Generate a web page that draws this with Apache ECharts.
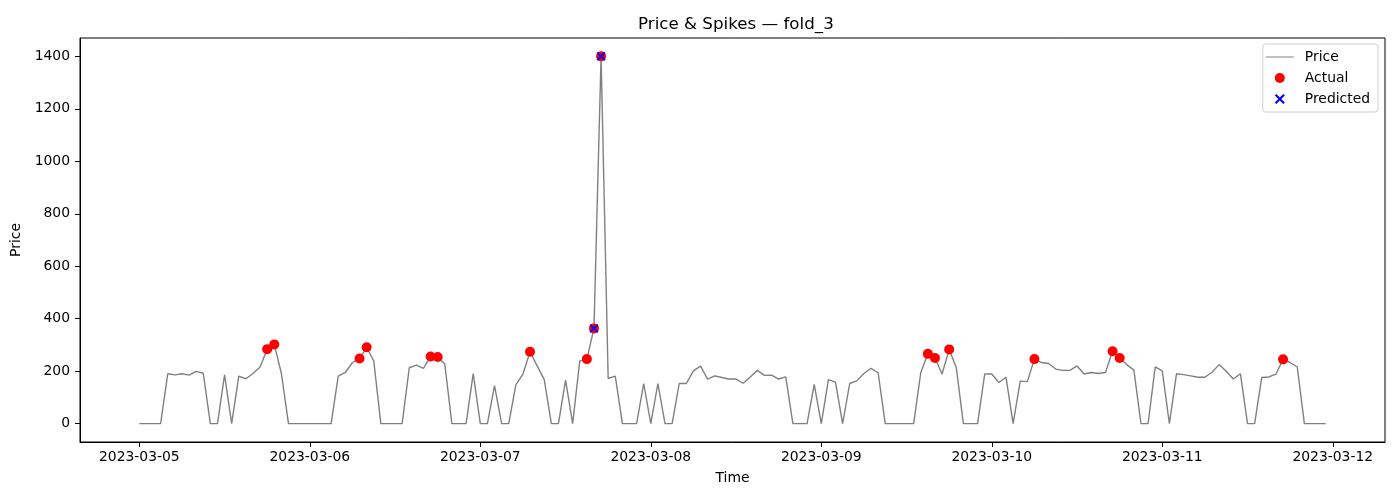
<!DOCTYPE html>
<html>
<head>
<meta charset="utf-8">
<title>Price & Spikes — fold_3</title>
<script src="https://cdn.jsdelivr.net/npm/echarts@6/dist/echarts.min.js"></script>
<style>
  html, body { margin: 0; padding: 0; background: #fff; }
  #chart { width: 1400px; height: 500px; }
</style>
</head>
<body>
<div id="chart"></div>
<script>
// hourly price, starting 2023-03-05 00:00
const price = [
    0, 0, 0, 0, 190, 186, 190, 185, 199, 192, 0, 0, 186, 0, 181, 171, 191, 216, 284, 302, 191, 0, 0, 0,
    0, 0, 0, 0, 181, 195, 233, 248, 291, 239, 0, 0, 0, 0, 213, 223, 211, 256, 254, 227, 0, 0, 0, 191,
    0, 0, 145, 0, 0, 148, 189, 274, 220, 168, 0, 0, 166, 0, 239, 246, 363, 1400, 172, 181, 0, 0, 0, 153,
    0, 153, 0, 0, 153, 153, 201, 219, 170, 182, 176, 170, 170, 154, 178, 203, 184, 185, 170, 178, 0, 0,
    0, 150, 0, 168, 158, 0, 153, 163, 191, 211, 194, 0, 0, 0, 0, 0, 194, 266, 250, 189, 283, 214, 0, 0,
    0, 189, 189, 157, 177, 0, 162, 160, 246, 233, 229, 208, 203, 203, 220, 189, 195, 191, 195, 276, 250, 225, 204, 0,
    0, 216, 201, 0, 190, 187, 182, 177, 177, 196, 225, 200, 170, 190, 0, 0, 176, 178, 189, 245, 233, 216, 0, 0,
    0, 0, 0, 0, 0, 0, 0, 0
].slice(0, 168);

// hours (index into price) flagged as spikes
const actualIdx = [18, 19, 31, 32, 41, 42, 55, 63, 64, 65, 111, 112, 114, 126, 137, 138, 161];
const predictedIdx = [64, 65];

const startDay = [2023, 2, 5];
const dayCount = 8; // tick labels 2023-03-05 .. 2023-03-12
const priceTicks = [0, 200, 400, 600, 800, 1000, 1200, 1400];

const HOUR = 3600 * 1000;
const t0 = new Date(startDay[0], startDay[1], startDay[2]).getTime();
const times = price.map((_, i) => t0 + i * HOUR);
const dayTicks = Array.from({ length: dayCount }, (_, d) => new Date(startDay[0], startDay[1], startDay[2] + d).getTime());

const pad = n => (n < 10 ? '0' : '') + n;
function fmtDay(v) {
    const d = new Date(v);
    return d.getFullYear() + '-' + pad(d.getMonth() + 1) + '-' + pad(d.getDate());
}

const X_PATH = 'path://M0,1.5L1.5,0L5,3.5L8.5,0L10,1.5L6.5,5L10,8.5L8.5,10L5,6.5L1.5,10L0,8.5L3.5,5Z';
const FONT = 'DejaVu Sans';

const chart = echarts.init(document.getElementById('chart'));
chart.setOption({
    animation: false,
    backgroundColor: '#fff',
    textStyle: { fontFamily: FONT },
    title: {
        text: 'Price & Spikes — fold_3',
        left: 633,
        top: 11,
        textStyle: { fontFamily: FONT, fontSize: 16.7, fontWeight: 'normal', color: '#000' }
    },
    grid: {
        left: 80, right: 15, top: 38, bottom: 58,
        show: true, borderColor: '#000', borderWidth: 1, backgroundColor: 'transparent'
    },
    legend: {
        orient: 'vertical',
        right: 22,
        top: 44,
        padding: [6, 8, 6, 3],
        itemGap: 7,
        itemWidth: 28,
        itemHeight: 10,
        backgroundColor: 'rgba(255,255,255,0.8)',
        borderColor: '#d0d0d0',
        borderWidth: 1,
        borderRadius: 3,
        textStyle: { fontFamily: FONT, fontSize: 13.9, color: '#000', padding: [0, 0, 0, 6] },
        data: [
            { name: 'Price', icon: 'path://M0,4.5L28,4.5L28,5.5L0,5.5Z', itemStyle: { color: '#808080' } },
            { name: 'Actual', icon: 'circle' },
            { name: 'Predicted', icon: X_PATH }
        ]
    },
    xAxis: {
        type: 'value',
        min: t0 - 8.35 * HOUR,
        max: t0 + 175.35 * HOUR,
        name: 'Time',
        nameLocation: 'middle',
        nameGap: 29,
        nameTextStyle: { fontFamily: FONT, fontSize: 13.9, color: '#000' },
        axisLine: { show: true, onZero: false, lineStyle: { color: '#000', width: 1 } },
        axisTick: { show: true, length: 5, lineStyle: { color: '#000' }, customValues: dayTicks },
        axisLabel: {
            fontFamily: FONT, fontSize: 13.9, color: '#000', margin: 8,
            customValues: dayTicks,
            formatter: fmtDay
        },
        splitLine: { show: false }
    },
    yAxis: {
        type: 'value',
        min: -70,
        max: 1470,
        name: 'Price',
        nameLocation: 'middle',
        nameGap: 45,
        nameTextStyle: { fontFamily: FONT, fontSize: 13.9, color: '#000' },
        axisLine: { show: true, onZero: false, lineStyle: { color: '#000', width: 1 } },
        axisTick: { show: true, length: 5, lineStyle: { color: '#000' }, customValues: priceTicks },
        axisLabel: {
            fontFamily: FONT, fontSize: 13.9, color: '#000', margin: 10,
            customValues: priceTicks,
            formatter: v => String(v)
        },
        splitLine: { show: false }
    },
    series: [
        {
            name: 'Price',
            type: 'line',
            data: times.map((t, i) => [t, price[i]]),
            showSymbol: false,
            symbol: 'none',
            lineStyle: { color: '#808080', width: 1.4 },
            itemStyle: { color: '#808080' },
            z: 1
        },
        {
            name: 'Actual',
            type: 'scatter',
            symbol: 'circle',
            symbolSize: 10,
            itemStyle: { color: '#ff0000', opacity: 1 },
            data: actualIdx.map(i => [times[i], price[i]]),
            z: 2
        },
        {
            name: 'Predicted',
            type: 'scatter',
            symbol: X_PATH,
            symbolSize: 9,
            itemStyle: { color: '#0000ff', opacity: 1 },
            data: predictedIdx.map(i => [times[i], price[i]]),
            z: 3
        }
    ]
});
</script>
</body>
</html>
